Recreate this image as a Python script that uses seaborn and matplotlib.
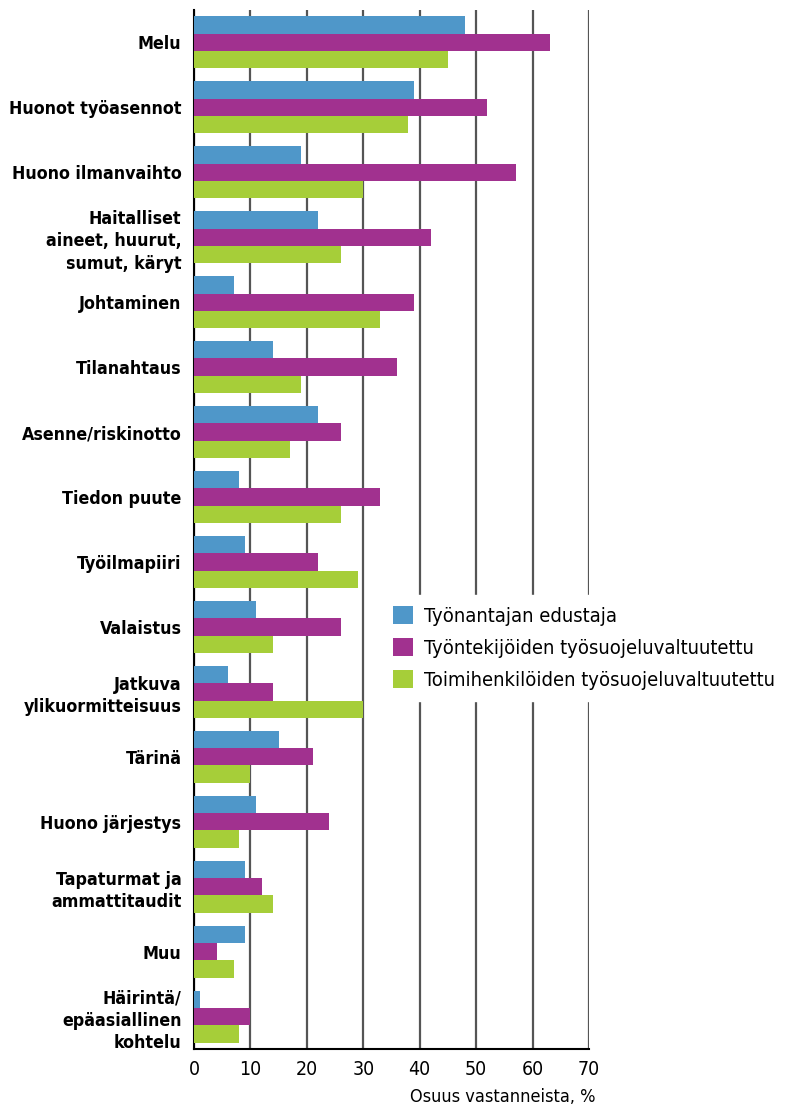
import pandas as pd
import numpy as np
import seaborn as sns
import matplotlib.pyplot as plt

# categories and values (% of respondents)
categories = ['Melu', 'Huonot työasennot', 'Huono ilmanvaihto',
              'Haitalliset\naineet, huurut,\nsumut, käryt', 'Johtaminen',
              'Tilanahtaus', 'Asenne/riskinotto', 'Tiedon puute',
              'Työilmapiiri', 'Valaistus', 'Jatkuva\nylikuormitteisuus',
              'Tärinä', 'Huono järjestys', 'Tapaturmat ja\nammattitaudit',
              'Muu', 'Häirintä/\nepäasiallinen\nkohtelu']
tyonantaja = [48, 39, 19, 22, 7, 14, 22, 8, 9, 11, 6, 15, 11, 9, 9, 1]
tyontekijat = [63, 52, 57, 42, 39, 36, 26, 33, 22, 26, 14, 21, 24, 12, 4, 10]
toimihenkilot = [45, 38, 30, 26, 33, 19, 17, 26, 29, 14, 30, 10, 8, 14, 7, 8]
series = ['Työnantajan edustaja', 'Työntekijöiden työsuojeluvaltuutettu',
          'Toimihenkilöiden työsuojeluvaltuutettu']
colors = ['#4F97C9', '#A1318F', '#A6CE39']

df = pd.DataFrame({'kategoria': categories * 3,
                   'ryhma': np.repeat(series, len(categories)),
                   'arvo': tyonantaja + tyontekijat + toimihenkilot})

sns.set_style('white')
plt.rcParams['font.family'] = ['DejaVu Sans']
plt.rcParams['font.stretch'] = 'condensed'
plt.rcParams['text.color'] = 'black'
plt.rcParams['xtick.color'] = 'black'
plt.rcParams['ytick.color'] = 'black'

fig = plt.figure(figsize=(7.85, 11.08), dpi=100)
ax = fig.add_axes([194/785, 1-1049/1108, 395/785, 1039/1108])

sns.barplot(data=df, y='kategoria', x='arvo', hue='ryhma', orient='h',
            palette=colors, width=0.8, saturation=1, linewidth=0, ax=ax, zorder=3)

ax.set_xlim(0, 70)
ax.set_xticks(range(0, 71, 10))
ax.grid(axis='x', color='#555555', linewidth=1.6, zorder=0)
ax.set_axisbelow(True)
for s in ['top', 'right']:
    ax.spines[s].set_visible(False)
ax.spines['left'].set_color('black')
ax.spines['bottom'].set_color('black')
ax.spines['left'].set_linewidth(1.5)
ax.spines['bottom'].set_linewidth(1.5)
ax.tick_params(axis='x', labelsize=14, length=0, pad=8)
ax.tick_params(axis='y', labelsize=12.8, length=0, pad=9)
for t in ax.get_yticklabels():
    t.set_fontweight('bold')
    t.set_horizontalalignment('right')
    t.set_multialignment('right')
    t.set_linespacing(1.3)
ax.set_xlabel('')
ax.set_ylabel('')

fig.text(595/785, 1-1097/1108, 'Osuus vastanneista, %', ha='right', va='center',
         fontsize=13)

leg = ax.legend(loc='center left', bbox_to_anchor=(0.475, 0.386), frameon=True,
                fontsize=14.5, handlelength=1.0, handleheight=1.0,
                handletextpad=0.55, labelspacing=0.62, borderpad=0.55,
                borderaxespad=0)
leg.get_frame().set_facecolor('white')
leg.get_frame().set_edgecolor('white')
leg.get_frame().set_alpha(1)
leg.set_title(None)

plt.savefig('out.png', dpi=100)
